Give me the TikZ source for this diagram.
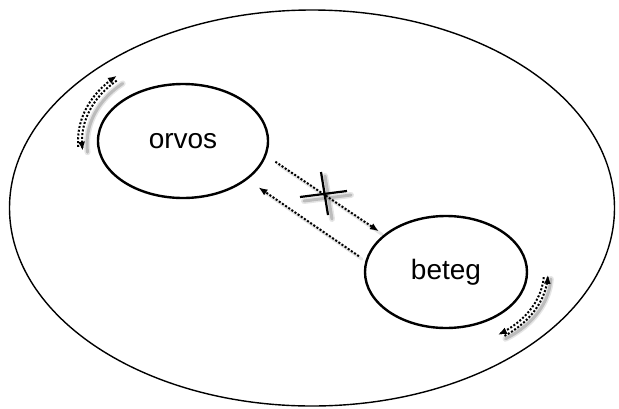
\documentclass[tikz,border=0pt]{standalone}
\usepackage{fontspec}
\setmainfont{Liberation Sans}
\usetikzlibrary{shapes.geometric,arrows.meta}

\begin{document}
\begin{tikzpicture}[x=1pt,y=-1pt,
        main node/.style={ellipse,draw,line width=2.4pt,inner sep=0pt,font=\fontsize{28}{30}\selectfont},
        dots/.style={line width=2pt,dash pattern=on 2pt off 1.8pt},
        tip/.style={-{Latex[length=9pt,width=7pt]}},
        blur/.style={line width=6pt,opacity=.10,line cap=round},
        blur core/.style={line width=3pt,opacity=.18,line cap=round}]
    \useasboundingbox (0,0) rectangle (619,408);

    \node[ellipse,draw,line width=1.4pt,minimum width=605pt,minimum height=396pt] at (312,208) (kornyezet) {};
    \node[main node,minimum width=170pt,minimum height=114pt] at (183,141) (orvos) {orvos};
    \node[main node,minimum width=162pt,minimum height=112pt] at (446,272) (beteg) {beteg};

    % loop at orvos
    \begin{scope}[shift={(orvos.center)}]
        \draw[blur] plot[domain=130:186,samples=20,smooth] ({100*cos(\x)+4},{-79*sin(\x)+3});
        \draw[blur core] plot[domain=130:186,samples=20,smooth] ({100*cos(\x)+4},{-79*sin(\x)+3});
        \draw[dots,tip] plot[domain=184:129,samples=20,smooth] ({105*cos(\x)},{-84*sin(\x)});
        \draw[dots,tip] plot[domain=131:187,samples=20,smooth] ({101*cos(\x)},{-80*sin(\x)});
    \end{scope}

    % loop at beteg
    \begin{scope}[shift={(beteg.center)}]
        \draw[blur] plot[domain=-3:-57,samples=20,smooth] ({100*cos(\x)+5},{-76*sin(\x)+3});
        \draw[blur core] plot[domain=-3:-57,samples=20,smooth] ({100*cos(\x)+5},{-76*sin(\x)+3});
        \draw[dots,tip] plot[domain=-55:-2,samples=20,smooth] ({102*cos(\x)},{-78*sin(\x)});
        \draw[dots,tip] plot[domain=-4:-58,samples=20,smooth] ({98*cos(\x)},{-74*sin(\x)});
    \end{scope}

    % orvos <-> beteg
    \path[blur core,opacity=.1]
        ([shift={(3,3)}]orvos.-10.4) edge[shorten <=10.8pt,shorten >=5.9pt] ([shift={(3,3)}]beteg.149)
        ([shift={(3,3)}]beteg.172.4) edge[shorten <=7.9pt,shorten >=13.5pt] ([shift={(3,3)}]orvos.-31.4);
    \path[dots]
        (orvos.-10.4) edge[tip,shorten <=10.8pt,shorten >=5.9pt] (beteg.149)
        (beteg.172.4) edge[tip,shorten <=7.9pt,shorten >=13.5pt] (orvos.-31.4);

    % crossed out
    \draw[blur] (304,201) -- (351,195) (325,176) -- (332,219);
    \draw[blur core] (304,201) -- (351,195) (325,176) -- (332,219);
    \draw[line width=2.2pt] (300,197) -- (347,191) (321,172) -- (328,215);
\end{tikzpicture}
\end{document}
